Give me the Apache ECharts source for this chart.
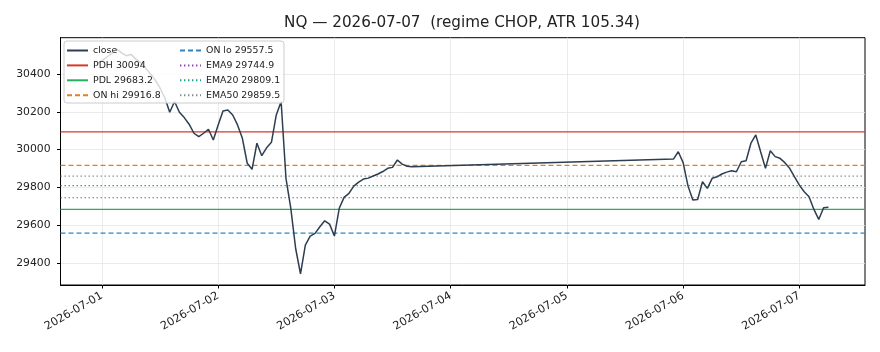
<!DOCTYPE html>
<html>
<head>
<meta charset="utf-8">
<script src="https://cdn.jsdelivr.net/npm/echarts@6/dist/echarts.min.js"></script>
<style>
  html, body { margin: 0; padding: 0; background: #fff; }
  #chart { width: 880px; height: 352px; }
</style>
</head>
<body>
<div id="chart"></div>
<script>
// hourly closes (session 1, then session 2 after the weekend gap)
var closeTimes = [
  '2026-06-30T23:00',
  '2026-07-01T00:00', '2026-07-01T01:00', '2026-07-01T02:00', '2026-07-01T03:00', '2026-07-01T04:00', '2026-07-01T05:00',
  '2026-07-01T06:00', '2026-07-01T07:00', '2026-07-01T08:00', '2026-07-01T09:00', '2026-07-01T10:00', '2026-07-01T11:00',
  '2026-07-01T12:00', '2026-07-01T13:00', '2026-07-01T14:00', '2026-07-01T15:00', '2026-07-01T16:00', '2026-07-01T17:00',
  '2026-07-01T18:00', '2026-07-01T19:00', '2026-07-01T20:00', '2026-07-01T21:00', '2026-07-01T22:00', '2026-07-01T23:00',
  '2026-07-02T00:00', '2026-07-02T01:00', '2026-07-02T02:00', '2026-07-02T03:00', '2026-07-02T04:00', '2026-07-02T05:00',
  '2026-07-02T06:00', '2026-07-02T07:00', '2026-07-02T08:00', '2026-07-02T09:00', '2026-07-02T10:00', '2026-07-02T11:00',
  '2026-07-02T12:00', '2026-07-02T13:00', '2026-07-02T14:00', '2026-07-02T15:00', '2026-07-02T16:00', '2026-07-02T17:00',
  '2026-07-02T18:00', '2026-07-02T19:00', '2026-07-02T20:00', '2026-07-02T21:00', '2026-07-02T22:00', '2026-07-02T23:00',
  '2026-07-03T00:00', '2026-07-03T01:00', '2026-07-03T02:00', '2026-07-03T03:00', '2026-07-03T04:00', '2026-07-03T05:00',
  '2026-07-03T06:00', '2026-07-03T07:00', '2026-07-03T08:00', '2026-07-03T09:00', '2026-07-03T10:00', '2026-07-03T11:00',
  '2026-07-03T12:00', '2026-07-03T13:00', '2026-07-03T14:00', '2026-07-03T15:00', '2026-07-03T16:00',
  '2026-07-05T22:00', '2026-07-05T23:00',
  '2026-07-06T00:00', '2026-07-06T01:00', '2026-07-06T02:00', '2026-07-06T03:00', '2026-07-06T04:00', '2026-07-06T05:00',
  '2026-07-06T06:00', '2026-07-06T07:00', '2026-07-06T08:00', '2026-07-06T09:00', '2026-07-06T10:00', '2026-07-06T11:00',
  '2026-07-06T12:00', '2026-07-06T13:00', '2026-07-06T14:00', '2026-07-06T15:00', '2026-07-06T16:00', '2026-07-06T17:00',
  '2026-07-06T18:00', '2026-07-06T19:00', '2026-07-06T20:00', '2026-07-06T21:00', '2026-07-06T22:00', '2026-07-06T23:00',
  '2026-07-07T00:00', '2026-07-07T01:00', '2026-07-07T02:00', '2026-07-07T03:00', '2026-07-07T04:00', '2026-07-07T05:00',
  '2026-07-07T06:00'
];
var closeValues = [
  30455,
  30472, 30490, 30510, 30534, 30515, 30498,
  30505, 30480, 30462, 30433, 30402, 30370,
  30327, 30274, 30198, 30255, 30198, 30170,
  30135, 30087, 30069, 30087, 30108, 30051,
  30131, 30205, 30210, 30184, 30131, 30060,
  29928, 29896, 30034, 29968, 30010, 30039,
  30184, 30255, 29848, 29689, 29476, 29342,
  29494, 29542, 29556, 29591, 29623, 29605,
  29542, 29689, 29747, 29768, 29807, 29828,
  29844, 29849, 29860, 29871, 29884, 29901,
  29906, 29945, 29923, 29912, 29909,
  29950, 29989,
  29931, 29808, 29733, 29736, 29830, 29795,
  29848, 29856, 29871, 29881, 29888, 29883,
  29936, 29941, 30034, 30078, 29989, 29901,
  29994, 29963, 29954, 29931, 29901, 29856,
  29812, 29777, 29750, 29683, 29630, 29692,
  29694
];

var levelNames = ['PDH', 'PDL', 'ON hi', 'ON lo', 'EMA9', 'EMA20', 'EMA50'];
var levelValues = [30094, 29683.2, 29916.8, 29557.5, 29744.9, 29809.1, 29859.5];

var dayTicks = ['2026-07-01T00:00', '2026-07-02T00:00', '2026-07-03T00:00', '2026-07-04T00:00',
  '2026-07-05T00:00', '2026-07-06T00:00', '2026-07-07T00:00'];
var yTicks = [29400, 29600, 29800, 30000, 30200, 30400];

var chartTitle = 'NQ \u2014 2026-07-07  (regime CHOP, ATR 105.34)';

// styles for each level line
var levelStyles = [
  { color: '#d63a2a', type: 'solid' },
  { color: '#27ae60', type: 'solid' },
  { color: '#e67e22', type: [5, 3] },
  { color: '#2e86c1', type: [5, 3] },
  { color: '#8e44ad', type: [1.4, 2.6] },
  { color: '#16a085', type: [1.4, 2.6] },
  { color: '#7f8c8d', type: [1.4, 2.6] }
];

var FONT = 'DejaVu Sans';
var toMs = function (s) { return +new Date(s); };
var pad2 = function (n) { return (n < 10 ? '0' : '') + n; };
var fmtDay = function (v) {
  var d = new Date(v);
  return d.getFullYear() + '-' + pad2(d.getMonth() + 1) + '-' + pad2(d.getDate());
};

var tms = closeTimes.map(toMs);
var tPad = 0.05 * (tms[tms.length - 1] - tms[0]);
var xMin = tms[0] - tPad, xMax = tms[tms.length - 1] + tPad;
var vMin = Math.min.apply(null, closeValues), vMax = Math.max.apply(null, closeValues);
var vPad = 0.05 * (vMax - vMin);

var dayMs = dayTicks.map(toMs);

var levelLabels = levelNames.map(function (n, i) { return n + ' ' + levelValues[i]; });

var series = [{
  name: 'close',
  type: 'line',
  symbol: 'none',
  z: 5,
  lineStyle: { color: '#2c3e50', width: 1.5 },
  itemStyle: { color: '#2c3e50' },
  data: tms.map(function (t, i) { return [t, closeValues[i]]; })
}];
levelValues.forEach(function (v, i) {
  series.push({
    name: levelLabels[i],
    type: 'line',
    symbol: 'none',
    z: 3,
    lineStyle: { color: levelStyles[i].color, width: 1.2, type: levelStyles[i].type },
    itemStyle: { color: levelStyles[i].color },
    data: [[xMin, v], [xMax, v]]
  });
});

var legendBase = {
  orient: 'vertical',
  top: 46,
  padding: 0,
  itemGap: 5.9,
  itemWidth: 21,
  itemHeight: 10,
  selectedMode: false,
  z: 20,
  itemStyle: { opacity: 0 },
  textStyle: { fontFamily: FONT, fontSize: 9.4, color: '#222' }
};

var dom = document.getElementById('chart');
var myChart = echarts.init(dom);
var option = {
  animation: false,
  backgroundColor: '#fff',
  title: {
    text: chartTitle,
    left: 457,
    top: 11,
    textAlign: 'center',
    textStyle: { fontFamily: FONT, fontSize: 15.2, fontWeight: 'normal', color: '#222' }
  },
  legend: [
    Object.assign({}, legendBase, { left: 66, data: ['close', levelLabels[0], levelLabels[1], levelLabels[2]] }),
    Object.assign({}, legendBase, { left: 179, data: [levelLabels[3], levelLabels[4], levelLabels[5], levelLabels[6]] })
  ],
  graphic: [{
    type: 'rect',
    z: 10,
    shape: { x: 64, y: 41, width: 220, height: 62, r: 3 },
    style: { fill: 'rgba(255,255,255,0.8)', stroke: '#cccccc', lineWidth: 1 }
  }],
  grid: {
    left: 60.5, right: 15, top: 37.7, bottom: 67,
    show: true, borderColor: '#000', borderWidth: 1, backgroundColor: 'transparent'
  },
  xAxis: {
    type: 'value',
    min: xMin,
    max: xMax,
    axisLine: { show: true, lineStyle: { color: '#000', width: 1 } },
    axisTick: { show: true, length: 3.5, customValues: dayMs, lineStyle: { color: '#000' } },
    axisLabel: {
      customValues: dayMs,
      rotate: 30,
      margin: 10,
      fontFamily: FONT,
      fontSize: 11.2,
      color: '#222',
      formatter: fmtDay
    },
    splitLine: { show: true, lineStyle: { color: '#e6e6e6', width: 0.8 } }
  },
  yAxis: {
    type: 'value',
    min: vMin - vPad,
    max: vMax + vPad,
    axisLine: { show: true, lineStyle: { color: '#000', width: 1 } },
    axisTick: { show: true, length: 3.5, customValues: yTicks, lineStyle: { color: '#000' } },
    axisLabel: {
      customValues: yTicks,
      margin: 10,
      fontFamily: FONT,
      fontSize: 10.8,
      color: '#222',
      formatter: function (v) { return String(v); }
    },
    splitLine: { show: true, lineStyle: { color: '#e6e6e6', width: 0.8 } }
  },
  series: series
};
myChart.setOption(option, true);
</script>
</body>
</html>
